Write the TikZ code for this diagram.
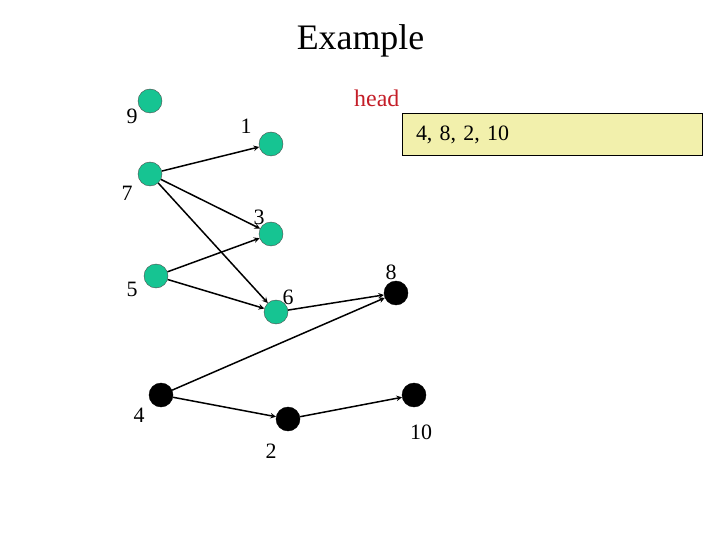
\documentclass[tikz,border=0pt]{standalone}
\usepackage{fontspec}
\setmainfont{Liberation Serif}
\usetikzlibrary{arrows,positioning}
\definecolor{teal1}{RGB}{22,196,146}
\definecolor{pale1}{RGB}{242,240,172}
\definecolor{head1}{RGB}{196,30,40}

\begin{document}
\begin{tikzpicture}[x=1bp, y=-1bp]

\tikzset{
visited/.style={circle,fill=teal1,draw=black!70,thin,minimum size=24bp,inner sep=0pt},
listed/.style={circle,fill=black,draw=black,thin,minimum size=24bp,inner sep=0pt},
link/.style={->,>=stealth,line width=1.5bp},
num/.style={inner sep=0pt,font=\fontsize{22}{24}\selectfont}
}

\useasboundingbox (0,0) rectangle (720,540);

% Title
\node[anchor=base,font=\fontsize{36}{40}\selectfont] (title) at (360.5,50) {Example};

% Vertices
\node[visited] (v9) at (150,101) {};
\node[visited] (v7) at (150,174) {};
\node[visited] (v1) at (271,144) {};
\node[visited] (v3) at (271,234) {};
\node[visited] (v5) at (156,276) {};
\node[visited] (v6) at (276,312) {};

\node[listed] (v8) at (396,293) {};
\node[listed] (v4) at (161,395) {};
\node[listed] (v2) at (288,419) {};
\node[listed] (v10) at (414,395) {};

% Labels
\node[num] (lab9) at (132,116) {9};
\node[num] (lab7) at (127,193) {7};
\node[num] (lab1) at (246,126) {1};
\node[num] (lab3) at (259,217) {3};
\node[num] (lab5) at (132,289) {5};
\node[num] (lab6) at (288,297) {6};
\node[num] (lab8) at (391,272) {8};
\node[num] (lab4) at (139,415) {4};
\node[num] (lab2) at (271,451) {2};
\node[num] (lab10) at (421,432) {10};

% List
\node[anchor=base west,text=head1,inner sep=0pt,font=\fontsize{24}{26}\selectfont] (head) at (354,107) {head};
\node[draw=black,fill=pale1,line width=1bp,minimum width=300bp,minimum height=42bp,
      text width=272bp,inner xsep=14bp,align=left,font=\fontsize{22}{24}\selectfont] (list) at (552,135) {4, 8, 2, 10};

% Arrows
\draw[link] (v7) -- (v1);
\draw[link] (v7) -- (v3);
\draw[link] (v7) -- (v6);
\draw[link] (v5) -- (v3);
\draw[link] (v5) -- (v6);
\draw[link] (v6) -- (v8);
\draw[link] (v4) -- (v8);
\draw[link] (v4) -- (v2);
\draw[link] (v2) -- (v10);

\end{tikzpicture}
\end{document}
